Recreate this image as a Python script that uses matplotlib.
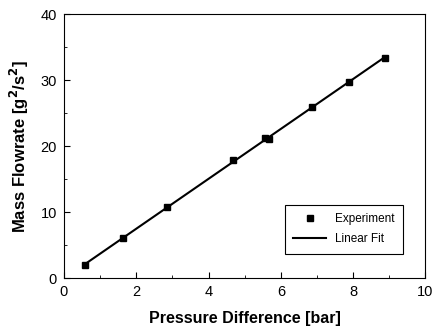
import numpy as np
import matplotlib
matplotlib.use('Agg')
import matplotlib.pyplot as plt
from matplotlib.ticker import MultipleLocator

# Data
pressure = [0.58, 1.63, 2.85, 4.68, 5.56, 5.66, 6.85, 7.88, 8.87]
flowrate = [1.95, 6.05, 10.7, 17.9, 21.2, 21.0, 25.9, 29.7, 33.3]

# Linear fit through the experimental points
slope, intercept = np.polyfit(pressure, flowrate, 1)
fit_x = np.array([min(pressure), max(pressure)])
fit_y = slope * fit_x + intercept

plt.rcParams['font.family'] = ['Liberation Sans', 'DejaVu Sans']

fig = plt.figure(figsize=(4.35, 3.29), dpi=100)
ax = fig.add_axes([0.147, 0.155, 0.831, 0.802])

ax.plot(pressure, flowrate, 's', color='black', markersize=5, label='Experiment')
ax.plot(fit_x, fit_y, '-', color='black', linewidth=1.5, label='Linear Fit')

ax.set_xlim(0, 10)
ax.set_ylim(0, 40)
ax.xaxis.set_major_locator(MultipleLocator(2))
ax.xaxis.set_minor_locator(MultipleLocator(1))
ax.yaxis.set_major_locator(MultipleLocator(10))
ax.yaxis.set_minor_locator(MultipleLocator(5))
ax.tick_params(which='both', direction='in', top=False, right=False, labelsize=10.5)
ax.tick_params(which='major', length=4, pad=5)
ax.tick_params(which='minor', length=2.5)

ax.set_xlabel('Pressure Difference [bar]', fontsize=11.5, fontweight='bold', labelpad=9)
ax.set_ylabel('Mass Flowrate [g$^{\\mathbf{2}}$/s$^{\\mathbf{2}}$]', fontsize=12,
              fontweight='bold', labelpad=7)

leg = ax.legend(loc='lower right', bbox_to_anchor=(0.955, 0.07), fontsize=8.5,
                fancybox=False, edgecolor='black', framealpha=1,
                handlelength=2.8, borderpad=0.7, labelspacing=0.7)
leg.get_frame().set_linewidth(0.8)

plt.savefig('out.png', dpi=100)
